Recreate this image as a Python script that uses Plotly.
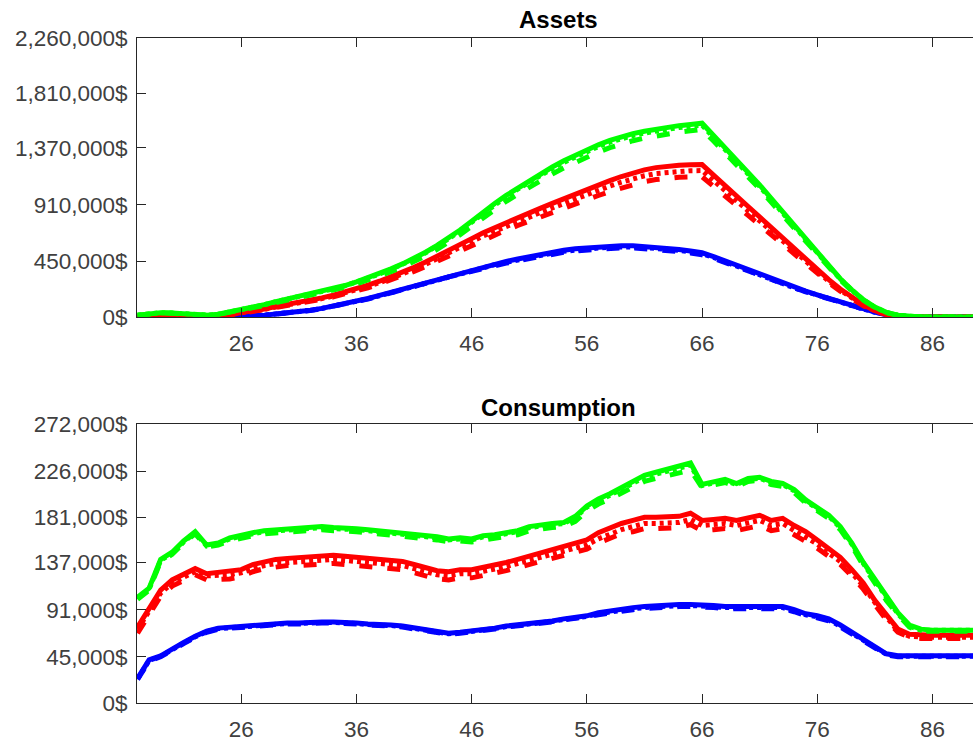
import plotly.graph_objects as go
from plotly.subplots import make_subplots

# Age axis
ages = list(range(17, 91))

# ---- Assets (thousands of $) ----
assets_green_solid = [15, 25, 35, 32, 25, 17, 15, 22, 40, 60, 80, 100, 125, 145, 165, 185, 205, 230, 255, 285,
                      318, 352, 390, 430, 475, 525, 580, 640, 705, 775, 850, 920, 985, 1045, 1105, 1160, 1215, 1265,
                      1310, 1355, 1395, 1430, 1460, 1485, 1505, 1522, 1537, 1550, 1560, 1570, 1470, 1370, 1270, 1175,
                      1070, 960, 850, 740, 630, 520, 410, 310, 220, 140, 80, 38, 14, 4, 0, 0, 0, 0, 0, 0]
assets_green_dot = [15, 25, 35, 32, 25, 17, 15, 22, 40, 59, 79, 99, 124, 143, 163, 183, 203, 228, 252, 282,
                    315, 348, 386, 426, 470, 520, 574, 634, 698, 767, 841, 911, 975, 1035, 1094, 1148, 1203, 1252,
                    1297, 1341, 1381, 1416, 1445, 1470, 1490, 1507, 1522, 1535, 1544, 1554, 1455, 1356, 1257, 1163,
                    1059, 950, 842, 733, 624, 515, 406, 307, 218, 139, 79, 38, 14, 4, 0, 0, 0, 0, 0, 0]
assets_green_dash = [15, 24, 33, 30, 23, 16, 14, 20, 37, 56, 75, 94, 117, 136, 155, 174, 193, 216, 240, 268,
                     299, 331, 367, 405, 448, 495, 548, 605, 667, 735, 806, 874, 937, 995, 1053, 1106, 1159, 1208,
                     1252, 1296, 1336, 1372, 1402, 1428, 1449, 1467, 1483, 1497, 1508, 1520, 1425, 1328, 1232, 1140,
                     1038, 930, 824, 717, 610, 503, 396, 299, 212, 135, 77, 36, 13, 4, 0, 0, 0, 0, 0, 0]

assets_red_solid = [5, 8, 10, 10, 8, 5, 5, 10, 20, 32, 48, 65, 85, 100, 117, 135, 155, 177, 202, 229,
                    258, 290, 325, 362, 402, 445, 490, 537, 585, 635, 683, 725, 765, 805, 845, 882, 920, 958,
                    995, 1035, 1070, 1105, 1138, 1168, 1192, 1210, 1222, 1230, 1234, 1235, 1150, 1070, 980, 895,
                    810, 722, 636, 550, 465, 382, 302, 227, 158, 98, 52, 22, 6, 1, 0, 0, 0, 0, 0, 0]
assets_red_dot = [5, 8, 10, 10, 8, 5, 5, 10, 19, 31, 46, 62, 81, 96, 112, 130, 149, 170, 194, 220,
                  248, 278, 312, 348, 386, 427, 470, 516, 562, 610, 656, 696, 734, 773, 811, 847, 883, 920,
                  955, 994, 1027, 1061, 1092, 1121, 1144, 1162, 1173, 1181, 1185, 1186, 1104, 1027, 941, 859,
                  778, 693, 611, 528, 446, 367, 290, 218, 152, 94, 50, 21, 6, 1, 0, 0, 0, 0, 0, 0]
assets_red_dash = [5, 7, 9, 9, 7, 5, 5, 9, 18, 29, 44, 60, 78, 92, 108, 124, 143, 163, 186, 211,
                   237, 267, 299, 333, 370, 409, 451, 494, 538, 584, 628, 667, 704, 741, 777, 811, 846, 881,
                   915, 952, 984, 1017, 1047, 1075, 1097, 1113, 1124, 1132, 1135, 1136, 1058, 984, 902, 823,
                   745, 664, 585, 506, 428, 351, 278, 209, 145, 90, 48, 20, 6, 1, 0, 0, 0, 0, 0, 0]

assets_blue_solid = [0, 0, 0, 0, 0, 0, 0, 1, 3, 6, 10, 15, 23, 32, 42, 55, 70, 88, 108, 128,
                     150, 175, 200, 225, 252, 280, 308, 335, 360, 385, 410, 430, 450, 470, 490, 508, 525, 540,
                     552, 560, 568, 574, 577, 577, 572, 565, 557, 547, 535, 520, 490, 455, 415, 375,
                     340, 305, 272, 240, 210, 180, 150, 120, 92, 65, 40, 20, 8, 2, 0, 0, 0, 0, 0, 0]
assets_blue_dot = [0, 0, 0, 0, 0, 0, 0, 1, 3, 6, 10, 15, 23, 32, 41, 54, 69, 87, 106, 126,
                   148, 172, 197, 222, 248, 276, 303, 330, 355, 379, 404, 424, 443, 463, 483, 500, 517, 532,
                   544, 552, 559, 565, 568, 568, 563, 557, 549, 539, 527, 512, 483, 448, 409, 369,
                   335, 300, 268, 236, 207, 177, 148, 118, 91, 64, 39, 20, 8, 2, 0, 0, 0, 0, 0, 0]
assets_blue_dash = [0, 0, 0, 0, 0, 0, 0, 1, 3, 6, 10, 14, 22, 31, 41, 53, 68, 85, 105, 124,
                    146, 170, 194, 218, 244, 272, 299, 325, 349, 373, 398, 417, 436, 456, 475, 493, 509, 524,
                    535, 543, 551, 557, 560, 560, 555, 548, 540, 531, 519, 504, 475, 441, 403, 364,
                    330, 296, 264, 233, 204, 175, 146, 116, 89, 63, 39, 19, 8, 2, 0, 0, 0, 0, 0, 0]

# ---- Consumption (thousands of $) ----
cons_green_solid = [103, 112, 140, 147, 158, 167, 154, 156, 161, 164, 166, 168, 169, 170, 171, 172, 172, 171, 171, 170,
                    169, 168, 167, 166, 165, 164, 162, 160, 161, 160, 163, 164, 166, 168, 172, 174, 175, 176,
                    182, 192, 199, 204, 210, 217, 222, 225, 228, 232, 234, 213, 215, 218, 214, 219,
                    220, 216, 214, 208, 198, 190, 183, 172, 156, 137, 120, 103, 88, 76, 72, 71, 71, 71, 71, 71]
cons_green_dot = [102, 111, 139, 146, 157, 166, 153, 155, 160, 163, 165, 167, 168, 169, 170, 171, 171, 170, 170, 169,
                  168, 167, 166, 165, 164, 163, 161, 159, 160, 159, 162, 163, 165, 167, 171, 173, 174, 175,
                  181, 191, 197, 202, 208, 215, 220, 223, 226, 230, 232, 212, 214, 217, 213, 218,
                  219, 215, 213, 207, 197, 189, 182, 171, 155, 136, 119, 102, 87, 75, 71, 71, 71, 71, 71, 71]
cons_green_dash = [101, 110, 138, 145, 156, 165, 152, 154, 158, 161, 163, 165, 166, 167, 168, 169, 169, 168, 168, 167,
                   166, 165, 164, 163, 162, 161, 159, 157, 158, 157, 159, 160, 162, 164, 168, 170, 171, 172,
                   177, 187, 194, 199, 205, 211, 216, 219, 222, 225, 227, 210, 212, 215, 211, 216,
                   217, 213, 211, 205, 195, 187, 180, 169, 153, 134, 117, 100, 86, 74, 70, 70, 70, 70, 70, 70]

cons_red_solid = [74, 92, 110, 120, 126, 131, 126, 127, 128, 130, 135, 138, 140, 141, 142, 143, 144, 144, 143, 142,
                  141, 141, 140, 138, 135, 132, 129, 128, 130, 130, 132, 134, 137, 140, 143, 146, 149, 152,
                  155, 159, 166, 171, 175, 178, 181, 181, 181, 182, 185, 178, 179, 180, 178, 181,
                  183, 178, 180, 173, 167, 159, 150, 142, 130, 117, 100, 85, 72, 67, 66, 66, 66, 66, 66, 66]
cons_red_dot = [72, 90, 107, 117, 123, 128, 124, 124, 125, 127, 131, 134, 136, 137, 138, 139, 140, 140, 139, 138,
                137, 137, 136, 134, 131, 128, 125, 124, 126, 126, 128, 130, 133, 136, 139, 141, 144, 147,
                150, 154, 160, 165, 169, 172, 175, 175, 175, 176, 179, 173, 174, 175, 173, 176,
                178, 173, 175, 168, 162, 155, 146, 138, 127, 114, 98, 83, 70, 65, 64, 64, 64, 64, 64, 64]
cons_red_dash = [68, 86, 104, 114, 120, 125, 120, 120, 121, 123, 128, 131, 133, 134, 134, 135, 136, 136, 135, 134,
                 133, 133, 132, 130, 127, 124, 121, 120, 122, 122, 124, 126, 129, 132, 135, 138, 140, 143,
                 146, 150, 156, 161, 165, 167, 170, 170, 170, 171, 174, 168, 169, 170, 168, 171,
                 173, 168, 170, 164, 158, 151, 143, 135, 124, 111, 96, 81, 69, 64, 63, 63, 63, 63, 63, 63]

cons_blue_solid = [24, 42, 46, 53, 59, 65, 70, 73, 74, 75, 76, 77, 77, 78, 78, 79, 79, 79, 79, 78,
                   77, 77, 76, 75, 73, 71, 69, 68, 69, 70, 72, 73, 75, 76, 78, 79, 80, 82,
                   83, 85, 88, 90, 92, 93, 94, 95, 95, 96, 96, 96, 95, 94, 94, 95,
                   95, 95, 94, 91, 87, 85, 82, 76, 69, 62, 54, 48, 46, 46, 46, 46, 46, 46, 46, 46]
cons_blue_dot = [23.5, 41.5, 45.5, 52.5, 58.5, 64.5, 69.5, 72.5, 73.5, 74.5, 75.5, 76.5, 76.5, 77.5, 77.5, 78.5, 78.5,
                 78.5, 78.5, 77.5, 76.5, 76.5, 75.5, 74.5, 72.5, 70.5, 68.5, 67.5, 68.5, 69.5, 71.5, 72.5, 74.5,
                 75.5, 77.5, 78.5, 79.5, 81.5, 82.5, 84.5, 87, 89, 91, 92, 93, 94, 94, 95, 95, 95, 94, 93, 93, 94,
                 94, 94, 93, 90, 86, 84, 81, 75, 68, 61, 53.5, 47.5, 45.5, 45.5, 45.5, 45.5, 45.5, 45.5, 45.5, 45.5]
cons_blue_dash = [23, 41, 45, 52, 58, 64, 69, 72, 73, 74, 75, 76, 76, 77, 77, 78, 78, 78, 78, 77,
                  76, 76, 75, 74, 72, 70, 68, 67, 68, 69, 71, 72, 74, 75, 77, 78, 79, 81,
                  82, 84, 86, 88, 90, 91, 92, 93, 93, 94, 94, 94, 93, 92, 92, 93,
                  93, 93, 92, 89, 85, 83, 80, 74, 67, 60, 53, 47, 45, 45, 45, 45, 45, 45, 45, 45]

# Tick definitions
x_ticks = [26, 36, 46, 56, 66, 76, 86]
assets_ticks = [0, 450, 910, 1370, 1810, 2260]
assets_tick_text = ["0$", "450,000$", "910,000$", "1,370,000$", "1,810,000$", "2,260,000$"]
cons_ticks = [0, 45, 91, 137, 181, 226, 272]
cons_tick_text = ["0$", "45,000$", "91,000$", "137,000$", "181,000$", "226,000$", "272,000$"]

GREEN, RED, BLUE = "#00ff00", "#ff0000", "#0000ff"
DOT = "4px,4px"
DASH = "13px,15px"
LW = 5

fig = make_subplots(rows=2, cols=1)

assets_series = [
    (BLUE, [(assets_blue_dash, DASH), (assets_blue_dot, DOT), (assets_blue_solid, "solid")]),
    (RED, [(assets_red_dash, DASH), (assets_red_dot, DOT), (assets_red_solid, "solid")]),
    (GREEN, [(assets_green_dash, DASH), (assets_green_dot, DOT), (assets_green_solid, "solid")]),
]
cons_series = [
    (BLUE, [(cons_blue_dash, DASH), (cons_blue_dot, DOT), (cons_blue_solid, "solid")]),
    (RED, [(cons_red_dash, DASH), (cons_red_dot, DOT), (cons_red_solid, "solid")]),
    (GREEN, [(cons_green_dash, DASH), (cons_green_dot, DOT), (cons_green_solid, "solid")]),
]

for row, group in ((1, assets_series), (2, cons_series)):
    for color, lines in group:
        for values, dash in lines:
            fig.add_trace(
                go.Scatter(x=ages, y=values, mode="lines",
                           line=dict(color=color, width=LW, dash=dash),
                           showlegend=False, hoverinfo="skip"),
                row=row, col=1,
            )

FONT = "Liberation Sans, Arial, Helvetica, sans-serif"
AXIS_COLOR = "#262626"
TICK_FONT = dict(family=FONT, size=22.5, color="#404040")

common_x = dict(range=[16.95, 89.52], tickvals=x_ticks, ticks="inside", ticklen=9,
                tickcolor=AXIS_COLOR, showline=True, linecolor=AXIS_COLOR, linewidth=1,
                mirror="ticks", showgrid=False, zeroline=False, tickfont=TICK_FONT,
                ticklabelstandoff=6)
common_y = dict(ticks="inside", ticklen=9, tickcolor=AXIS_COLOR, showline=True,
                linecolor=AXIS_COLOR, linewidth=1, showgrid=False, zeroline=False,
                tickfont=TICK_FONT, ticklabelstandoff=4)

fig.update_xaxes(**common_x)
fig.update_yaxes(**common_y)

top_plot, bottom_plot, left, height, width = 38, 39, 137, 742, 973
plot_h = height - top_plot - bottom_plot
fig.update_layout(
    xaxis=dict(domain=[0, 1], anchor="y"),
    xaxis2=dict(domain=[0, 1], anchor="y2"),
    yaxis=dict(domain=[(703 - 317) / plot_h, 1.0], range=[0, 2260],
               tickvals=assets_ticks, ticktext=assets_tick_text),
    yaxis2=dict(domain=[0, (703 - 424) / plot_h], range=[0, 272],
                tickvals=cons_ticks, ticktext=cons_tick_text),
    width=width, height=height,
    margin=dict(l=left, r=0, t=top_plot, b=bottom_plot),
    paper_bgcolor="white", plot_bgcolor="white",
    annotations=[
        dict(text="<b>Assets</b>", x=(558 - left) / (width - left), y=(703 - 19) / plot_h,
             xref="paper", yref="paper", xanchor="center", yanchor="middle", showarrow=False,
             font=dict(family=FONT, size=24, color="#000000")),
        dict(text="<b>Consumption</b>", x=(558 - left) / (width - left), y=(703 - 407) / plot_h,
             xref="paper", yref="paper", xanchor="center", yanchor="middle", showarrow=False,
             font=dict(family=FONT, size=24, color="#000000")),
    ],
)

fig.write_html("out.html")
